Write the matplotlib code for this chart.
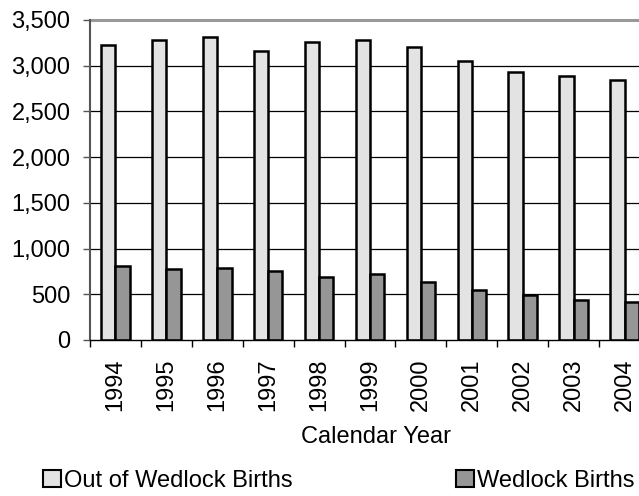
import numpy as np
import matplotlib
matplotlib.use("Agg")
from matplotlib import pyplot as plt
from matplotlib.patches import Patch
from matplotlib.ticker import FuncFormatter

plt.rcParams['font.family'] = ['Liberation Sans', 'DejaVu Sans']

years = ['1994', '1995', '1996', '1997', '1998', '1999',
         '2000', '2001', '2002', '2003', '2004']
out_of_wedlock = [3222, 3284, 3317, 3161, 3256, 3278, 3205, 3051, 2934, 2884, 2844]
wedlock = [809, 773, 787, 751, 686, 718, 631, 550, 489, 441, 412]

light = '#e3e3e3'
dark = '#969696'
fs = 17

fig = plt.figure(figsize=(6.39, 4.96), dpi=100)
ax = fig.add_axes([90/639, 156/496, 560/639, 320/496])

x = np.arange(len(years))
w = 0.28
ax.bar(x - w/2, out_of_wedlock, w, color=light, edgecolor='black', linewidth=1.8, zorder=3)
ax.bar(x + w/2, wedlock, w, color=dark, edgecolor='black', linewidth=1.8, zorder=3)

ax.set_xlim(-0.5, len(years) - 0.5)
ax.set_ylim(0, 3500)
ax.set_yticks(np.arange(0, 3501, 500))
ax.yaxis.set_major_formatter(FuncFormatter(lambda v, p: f'{int(v):,}'))
for yv in np.arange(500, 3001, 500):
    ax.axhline(yv, color='black', linewidth=0.9, zorder=1)
ax.axhline(3500, color='#999999', linewidth=2.2, zorder=1, clip_on=False)

ax.set_xticks(x)
ax.set_xticklabels(years, rotation=90)
ax.set_xticks(np.arange(-0.5, len(years), 1), minor=True)
ax.tick_params(axis='x', which='major', length=0, pad=13, labelsize=fs)
ax.tick_params(axis='x', which='minor', length=5, width=1, color='black', direction='out')
ax.tick_params(axis='y', length=5, width=1, pad=9, labelsize=fs, color='#555555')

ax.spines['top'].set_visible(False)
ax.spines['right'].set_visible(False)
ax.spines['left'].set_color('#555555')
ax.spines['left'].set_linewidth(1.5)
ax.spines['bottom'].set_color('black')
ax.spines['bottom'].set_linewidth(1)
ax.spines['bottom'].set_zorder(4)

fig.text(376/639, 1 - 437/496, 'Calendar Year', ha='center', va='center', fontsize=fs)

handles = [Patch(facecolor=light, edgecolor='black', linewidth=1.5, label='Out of Wedlock Births'),
           Patch(facecolor=dark, edgecolor='black', linewidth=1.5, label='Wedlock Births')]
fig.legend(handles=handles, loc='center left', bbox_to_anchor=(43/639, 1 - 481/496),
           ncol=2, frameon=False, fontsize=fs, handlelength=0.75, handleheight=0.75,
           handletextpad=0.15, columnspacing=6.9, borderpad=0, borderaxespad=0)

fig.savefig('out.png', dpi=100)
